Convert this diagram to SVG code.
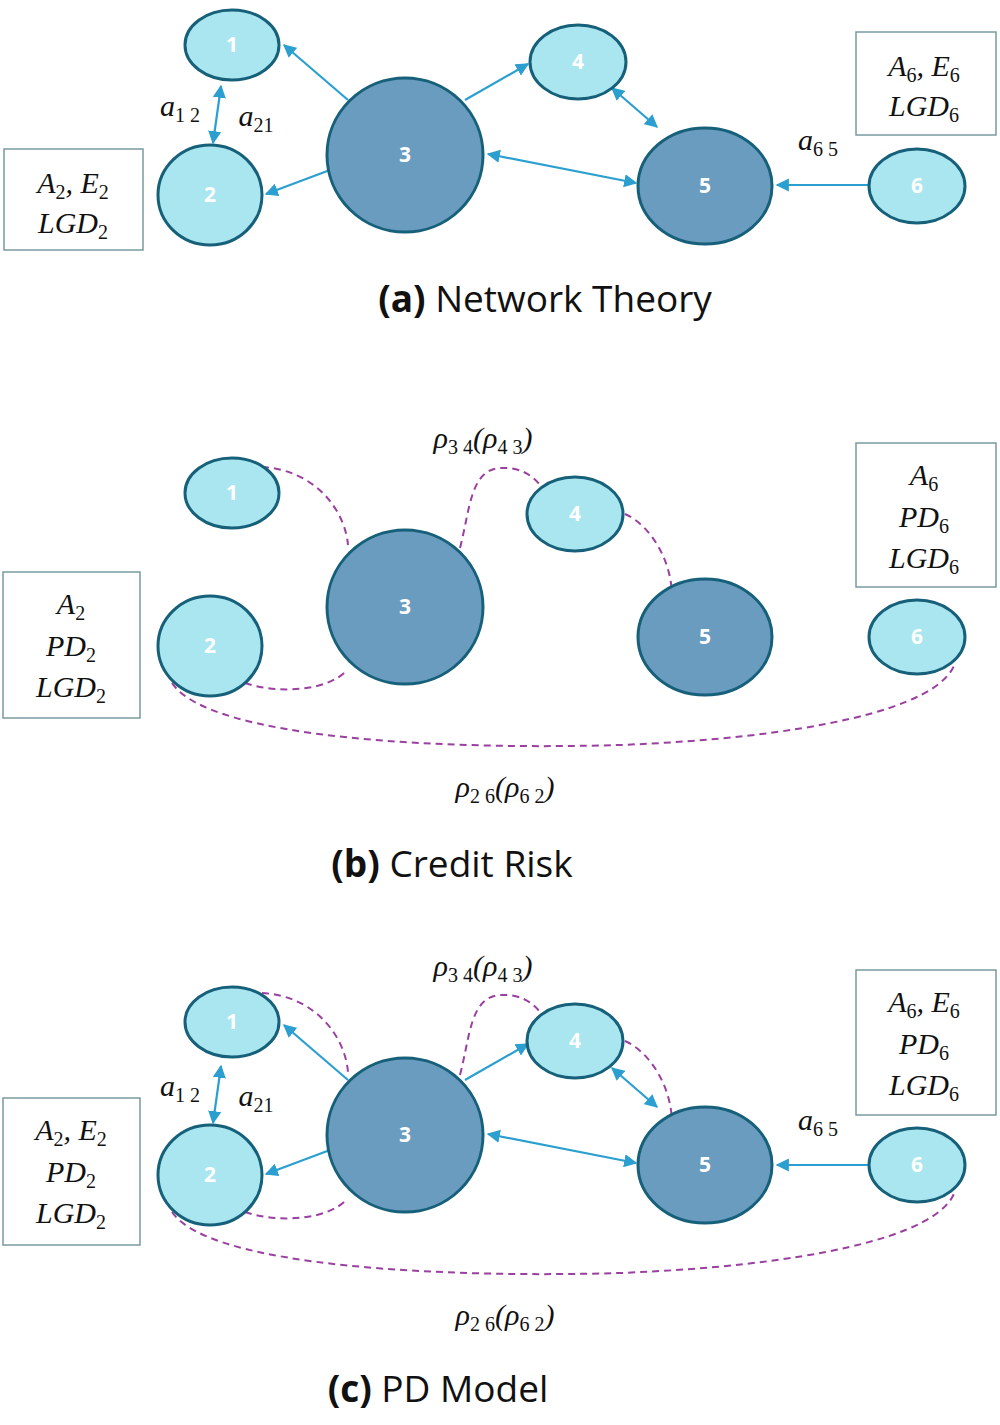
<svg xmlns="http://www.w3.org/2000/svg" width="1000" height="1425" viewBox="0 0 1000 1425">
<defs>
<marker id="ah" viewBox="0 0 10 10" refX="9" refY="5" markerWidth="6" markerHeight="6" orient="auto-start-reverse"><path d="M0,0L10,5L0,10z" fill="#2a9fd0"/></marker>
<style>
.lt{fill:#a9e6f0;stroke:#17607a;stroke-width:3}
.dk{fill:#6a9cc0;stroke:#17607a;stroke-width:3}
.nl{fill:#fff;font-family:"Open Sans",sans-serif;font-size:21px;font-weight:bold;text-anchor:middle}
.ar{stroke:#2a9fd0;stroke-width:2.2;fill:none;marker-end:url(#ah)}
.ab{stroke:#2a9fd0;stroke-width:2.2;fill:none;marker-end:url(#ah);marker-start:url(#ah)}
.ds{stroke:#9b3fa0;stroke-width:2;fill:none;stroke-dasharray:7,5}
.bx{fill:#fff;stroke:#7a9a9e;stroke-width:1.5}
.m{font-family:"Liberation Serif",serif;font-style:italic;font-size:30px;fill:#111;text-anchor:middle}
.s{font-size:20px;font-style:normal}
.t{font-family:"Open Sans",sans-serif;font-size:37px;fill:#111;text-anchor:middle}
</style>
</defs>
<rect width="1000" height="1425" fill="#fff"/>

<!-- Panel a -->
<g id="a-edges">
<path class="ar" d="M348,100L284,45"/>
<path class="ab" d="M221,86L213,143"/>
<path class="ar" d="M330,170L266,194"/>
<path class="ar" d="M465,100L528,64"/>
<path class="ab" d="M612,88L657,127"/>
<path class="ab" d="M488,154L636,183"/>
<path class="ar" d="M870,185L777,185"/>
</g>
<g id="a-n1"><ellipse class="lt" cx="232" cy="45" rx="47" ry="35"/><text class="nl" x="232" y="52">1</text></g>
<g id="a-n2"><ellipse class="lt" cx="210" cy="195" rx="52" ry="50"/><text class="nl" x="210" y="202">2</text></g>
<g id="a-n3"><ellipse class="dk" cx="405" cy="155" rx="78" ry="77"/><text class="nl" x="405" y="162">3</text></g>
<g id="a-n4"><ellipse class="lt" cx="578" cy="62" rx="48" ry="37"/><text class="nl" x="578" y="69">4</text></g>
<g id="a-n5"><ellipse class="dk" cx="705" cy="186" rx="67" ry="58"/><text class="nl" x="705" y="193">5</text></g>
<g id="a-n6"><ellipse class="lt" cx="917" cy="186" rx="48" ry="37"/><text class="nl" x="917" y="193">6</text></g>
<text class="m" x="180" y="116">a<tspan class="s" dy="6">1 2</tspan></text>
<text class="m" x="256" y="126">a<tspan class="s" dy="6">21</tspan></text>
<text class="m" x="818" y="150">a<tspan class="s" dy="6">6 5</tspan></text>
<g id="a-box2"><rect class="bx" x="4" y="149" width="139" height="101"/><text class="m" x="73" y="193">A<tspan class="s" dy="6">2</tspan><tspan dy="-6">, E</tspan><tspan class="s" dy="6">2</tspan></text><text class="m" x="73" y="233">LGD<tspan class="s" dy="6">2</tspan></text></g>
<g id="a-box6"><rect class="bx" x="856" y="32" width="140" height="103"/><text class="m" x="924" y="76">A<tspan class="s" dy="6">6</tspan><tspan dy="-6">, E</tspan><tspan class="s" dy="6">6</tspan></text><text class="m" x="924" y="116">LGD<tspan class="s" dy="6">6</tspan></text></g>
<text class="t" x="545" y="312"><tspan font-weight="bold">(a)</tspan> Network Theory</text>

<!-- Panel b -->
<g id="b-edges">
<path class="ds" d="M262,467C315,470 345,510 348,545"/>
<path class="ds" d="M460,548C470,510 470,470 500,468C520,467 532,475 540,485"/>
<path class="ds" d="M625,514C650,525 672,560 672,597"/>
<path class="ds" d="M245,683C280,695 330,690 347,670"/>
<path class="ds" d="M172,683C210,740 450,750 620,745C800,738 940,710 955,663"/>
</g>
<g id="b-n1"><ellipse class="lt" cx="232" cy="493" rx="47" ry="35"/><text class="nl" x="232" y="500">1</text></g>
<g id="b-n2"><ellipse class="lt" cx="210" cy="646" rx="52" ry="50"/><text class="nl" x="210" y="653">2</text></g>
<g id="b-n3"><ellipse class="dk" cx="405" cy="607" rx="78" ry="77"/><text class="nl" x="405" y="614">3</text></g>
<g id="b-n4"><ellipse class="lt" cx="575" cy="514" rx="48" ry="37"/><text class="nl" x="575" y="521">4</text></g>
<g id="b-n5"><ellipse class="dk" cx="705" cy="637" rx="67" ry="58"/><text class="nl" x="705" y="644">5</text></g>
<g id="b-n6"><ellipse class="lt" cx="917" cy="637" rx="48" ry="37"/><text class="nl" x="917" y="644">6</text></g>
<text class="m" x="483" y="448">ρ<tspan class="s" dy="6">3 4</tspan><tspan dy="-6">(ρ</tspan><tspan class="s" dy="6">4 3</tspan><tspan dy="-6">)</tspan></text>
<text class="m" x="505" y="797">ρ<tspan class="s" dy="6">2 6</tspan><tspan dy="-6">(ρ</tspan><tspan class="s" dy="6">6 2</tspan><tspan dy="-6">)</tspan></text>
<g id="b-box2"><rect class="bx" x="3" y="572" width="137" height="146"/><text class="m" x="71" y="614">A<tspan class="s" dy="6">2</tspan></text><text class="m" x="71" y="656">PD<tspan class="s" dy="6">2</tspan></text><text class="m" x="71" y="697">LGD<tspan class="s" dy="6">2</tspan></text></g>
<g id="b-box6"><rect class="bx" x="856" y="443" width="140" height="144"/><text class="m" x="924" y="485">A<tspan class="s" dy="6">6</tspan></text><text class="m" x="924" y="527">PD<tspan class="s" dy="6">6</tspan></text><text class="m" x="924" y="568">LGD<tspan class="s" dy="6">6</tspan></text></g>
<text class="t" x="452" y="877"><tspan font-weight="bold">(b)</tspan> Credit Risk</text>

<!-- Panel c -->
<g id="c-edges">
<path class="ar" d="M348,1080L284,1025"/>
<path class="ab" d="M221,1066L213,1123"/>
<path class="ar" d="M330,1150L266,1174"/>
<path class="ar" d="M465,1080L528,1044"/>
<path class="ab" d="M612,1068L657,1107"/>
<path class="ab" d="M488,1134L636,1163"/>
<path class="ar" d="M870,1165L777,1165"/>
<path class="ds" d="M262,993C315,996 345,1036 348,1072"/>
<path class="ds" d="M460,1075C470,1037 470,997 500,995C520,994 532,1002 540,1012"/>
<path class="ds" d="M625,1041C650,1052 672,1087 672,1124"/>
<path class="ds" d="M245,1212C280,1224 330,1219 347,1199"/>
<path class="ds" d="M172,1212C210,1268 450,1278 620,1273C800,1266 940,1238 955,1191"/>
</g>
<g id="c-n1"><ellipse class="lt" cx="232" cy="1022" rx="47" ry="35"/><text class="nl" x="232" y="1029">1</text></g>
<g id="c-n2"><ellipse class="lt" cx="210" cy="1175" rx="52" ry="50"/><text class="nl" x="210" y="1182">2</text></g>
<g id="c-n3"><ellipse class="dk" cx="405" cy="1135" rx="78" ry="77"/><text class="nl" x="405" y="1142">3</text></g>
<g id="c-n4"><ellipse class="lt" cx="575" cy="1041" rx="48" ry="37"/><text class="nl" x="575" y="1048">4</text></g>
<g id="c-n5"><ellipse class="dk" cx="705" cy="1165" rx="67" ry="58"/><text class="nl" x="705" y="1172">5</text></g>
<g id="c-n6"><ellipse class="lt" cx="917" cy="1165" rx="48" ry="37"/><text class="nl" x="917" y="1172">6</text></g>
<text class="m" x="180" y="1096">a<tspan class="s" dy="6">1 2</tspan></text>
<text class="m" x="256" y="1106">a<tspan class="s" dy="6">21</tspan></text>
<text class="m" x="818" y="1130">a<tspan class="s" dy="6">6 5</tspan></text>
<text class="m" x="483" y="976">ρ<tspan class="s" dy="6">3 4</tspan><tspan dy="-6">(ρ</tspan><tspan class="s" dy="6">4 3</tspan><tspan dy="-6">)</tspan></text>
<text class="m" x="505" y="1325">ρ<tspan class="s" dy="6">2 6</tspan><tspan dy="-6">(ρ</tspan><tspan class="s" dy="6">6 2</tspan><tspan dy="-6">)</tspan></text>
<g id="c-box2"><rect class="bx" x="3" y="1098" width="137" height="147"/><text class="m" x="71" y="1140">A<tspan class="s" dy="6">2</tspan><tspan dy="-6">, E</tspan><tspan class="s" dy="6">2</tspan></text><text class="m" x="71" y="1182">PD<tspan class="s" dy="6">2</tspan></text><text class="m" x="71" y="1223">LGD<tspan class="s" dy="6">2</tspan></text></g>
<g id="c-box6"><rect class="bx" x="856" y="970" width="140" height="145"/><text class="m" x="924" y="1012">A<tspan class="s" dy="6">6</tspan><tspan dy="-6">, E</tspan><tspan class="s" dy="6">6</tspan></text><text class="m" x="924" y="1054">PD<tspan class="s" dy="6">6</tspan></text><text class="m" x="924" y="1095">LGD<tspan class="s" dy="6">6</tspan></text></g>
<text class="t" x="438" y="1402"><tspan font-weight="bold">(c)</tspan> PD Model</text>
</svg>
